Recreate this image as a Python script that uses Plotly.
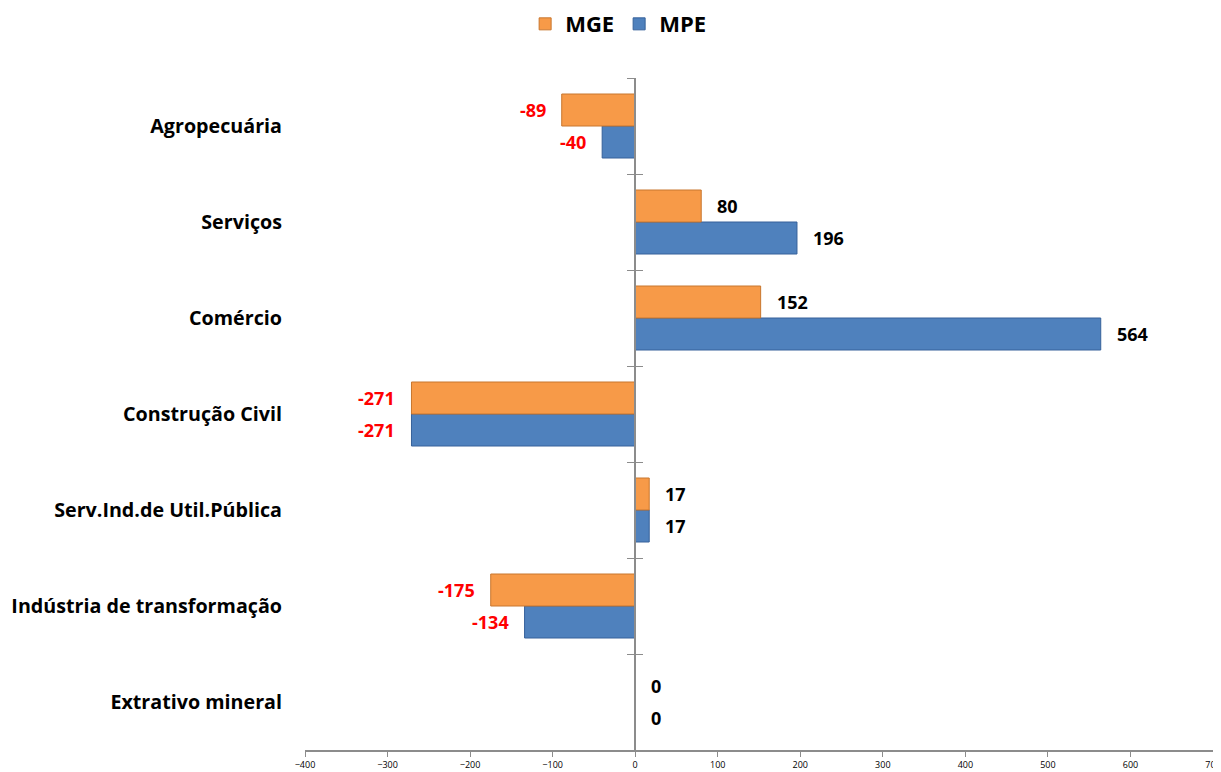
import plotly.graph_objects as go

categories = ["Extrativo mineral", "Indústria de transformação", "Serv.Ind.de Util.Pública",
              "Construção Civil", "Comércio", "Serviços", "Agropecuária"]
mge = [0, -175, 17, -271, 152, 80, -89]
mpe = [0, -134, 17, -271, 564, 196, -40]

x_min, x_max, x_step = -400, 700, 100

ORANGE = "#F79A48"
ORANGE_LINE = "#C8762E"
BLUE = "#4F81BD"
BLUE_LINE = "#36619A"
FONT = "Open Sans"

fig = go.Figure()
fig.add_trace(go.Bar(y=categories, x=mpe, orientation="h", name="MPE",
                     marker=dict(color=BLUE, line=dict(color=BLUE_LINE, width=1)),
                     legendrank=2))
fig.add_trace(go.Bar(y=categories, x=mge, orientation="h", name="MGE",
                     marker=dict(color=ORANGE, line=dict(color=ORANGE_LINE, width=1)),
                     legendrank=1))

annotations = []
for series, shift in ((mge, -16), (mpe, 16)):
    for cat, v in zip(categories, series):
        annotations.append(dict(
            x=v, y=cat, xref="x", yref="y", text=f"<b>{v}</b>", showarrow=False,
            xanchor="right" if v < 0 else "left",
            xshift=-14 if v < 0 else 14, yshift=-shift,
            font=dict(family=FONT, size=18, color="#FF0000" if v < 0 else "#000000")))

n = len(categories)
zero_frac = (0 - x_min) / (x_max - x_min)

# page body has an 8px margin, so the figure is sized to fit inside the window
fig.update_layout(
    width=1213, height=764,
    margin=dict(l=297, r=8, t=70, b=22, autoexpand=False),
    paper_bgcolor="white", plot_bgcolor="white",
    barmode="group", bargap=1/3, bargroupgap=0,
    font=dict(family=FONT, color="#000000"),
    legend=dict(orientation="h", x=0.503, xanchor="center", xref="container",
                y=0.979, yref="container", yanchor="middle",
                font=dict(family=FONT, size=22, color="#000", weight="bold"),
                itemwidth=30, traceorder="normal"),
    xaxis=dict(range=[x_min, x_max], dtick=x_step, tick0=x_min, showgrid=False,
               zeroline=False, showline=True, linecolor="#8C8C8C", linewidth=1.5,
               ticks="outside", ticklen=5, tickcolor="#8C8C8C", automargin=False,
               tickfont=dict(family=FONT, size=9, color="#000")),
    yaxis=dict(type="category", categoryarray=categories, showgrid=False, zeroline=False,
               showline=False, ticks="", ticklabelstandoff=22, automargin=False,
               tickfont=dict(family=FONT, size=19.7, color="#000", weight="bold"),
               range=[-0.5, n - 0.5]),
    yaxis2=dict(overlaying="y", anchor="free", position=zero_frac, range=[-0.5, n - 0.5],
                tick0=-0.5, dtick=1, showticklabels=False, showgrid=False, zeroline=False,
                showline=True, linecolor="#8C8C8C", linewidth=1.5, automargin=False,
                ticks="outside", ticklen=7, tickcolor="#8C8C8C", tickwidth=1.2),
    yaxis3=dict(overlaying="y", anchor="free", position=zero_frac, range=[-0.5, n - 0.5],
                tick0=-0.5, dtick=1, showticklabels=False, showgrid=False, zeroline=False,
                showline=False, ticks="inside", ticklen=7, tickcolor="#8C8C8C", tickwidth=1.2,
                automargin=False),
    annotations=annotations,
)
# invisible helper traces so the crossing axes are drawn
fig.add_trace(go.Scatter(x=[None], y=[None], yaxis="y2", showlegend=False, hoverinfo="skip"))
fig.add_trace(go.Scatter(x=[None], y=[None], yaxis="y3", showlegend=False, hoverinfo="skip"))

fig.write_html("out.html")
